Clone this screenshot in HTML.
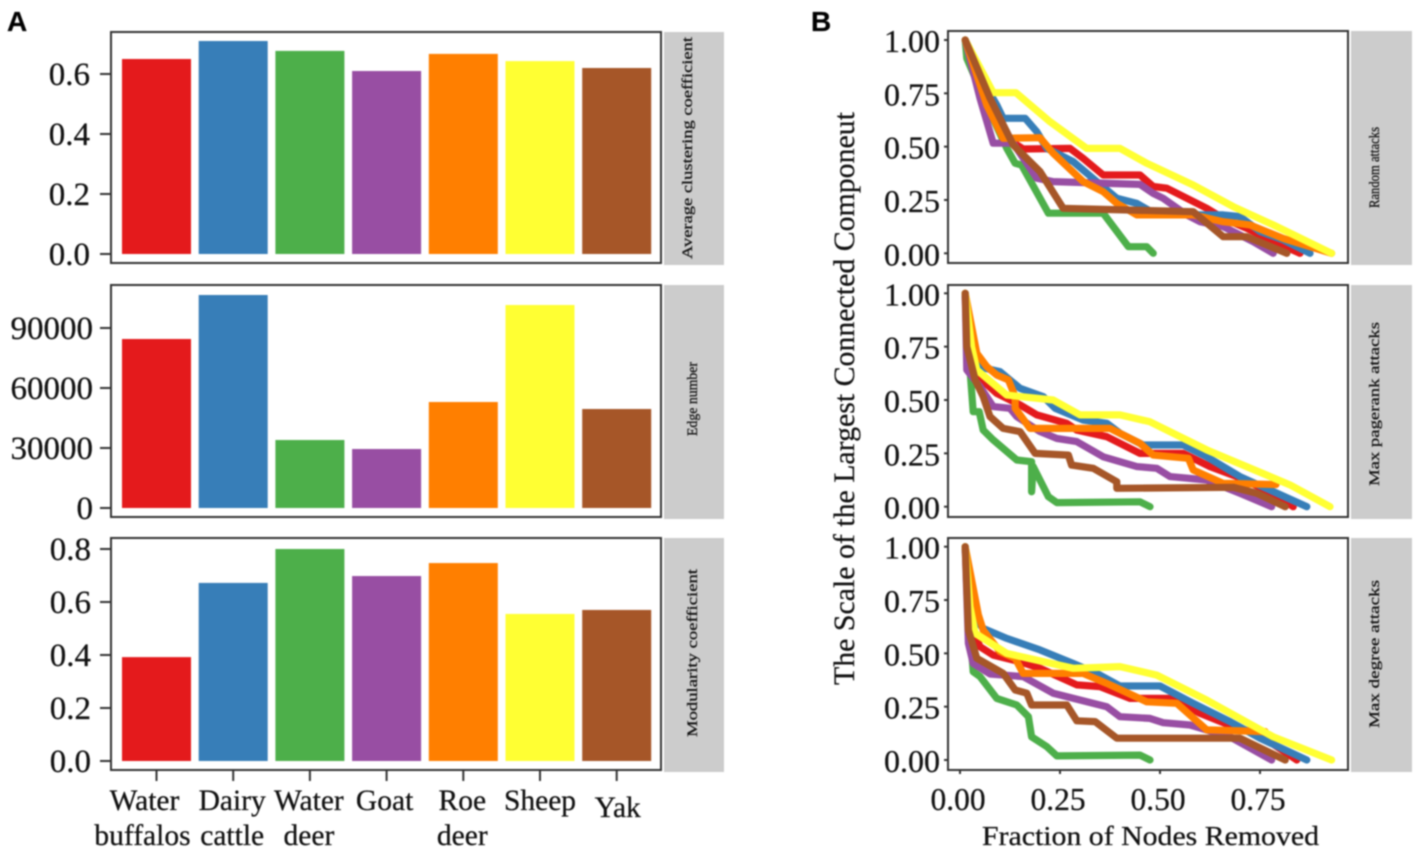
<!DOCTYPE html>
<html>
<head>
<meta charset="utf-8">
<title>Network metrics and robustness</title>
<style>
html,body{margin:0;padding:0;background:#fff;width:1418px;height:854px;overflow:hidden}
svg{display:block;filter:blur(0.7px)}
text{font-family:"Liberation Serif",serif;fill:#111;stroke:#111;stroke-width:0.25px}
</style>
</head>
<body>
<svg id="figure" xmlns="http://www.w3.org/2000/svg" width="1418" height="854" viewBox="0 0 1418 854">
  <text x="7" y="31" style="font-family:'Liberation Sans',sans-serif;font-weight:bold;font-size:28px;fill:#000">A</text>
  <text x="811" y="31" style="font-family:'Liberation Sans',sans-serif;font-weight:bold;font-size:28px;fill:#000">B</text>
  <text transform="translate(854,685) rotate(-90)" font-size="30" textLength="573" lengthAdjust="spacingAndGlyphs">The Scale of the Largest Connected Componeut</text>
  <text x="982" y="845" font-size="27" textLength="337" lengthAdjust="spacingAndGlyphs">Fraction of Nodes Removed</text>
</svg>
<script>
const speciesLine1 = ['Water','Dairy','Water','Goat','Roe','Sheep','Yak'];
const speciesLine2 = ['buffalos','cattle','deer','','deer','',''];
const speciesColors = ['#e41a1c','#377eb8','#4daf4a','#984ea3','#ff7f00','#ffff33','#a65628'];
const clusteringValues = [0.65,0.71,0.677,0.61,0.667,0.643,0.62];
const edgeValues = [84500,106500,34000,29500,53000,101500,49500];
const modularityValues = [0.392,0.672,0.8,0.698,0.747,0.555,0.57];
const clusteringTicks = [0,0.2,0.4,0.6];
const edgeTicks = [0,30000,60000,90000];
const modularityTicks = [0,0.2,0.4,0.6,0.8];
const fractionTicks = [0,0.25,0.5,0.75];
const scaleTicks = [0,0.25,0.5,0.75,1];

const randomRed = [[.013,1],[.075,.742],[.117,.539],[.158,.489],[.275,.492],[.308,.445],[.358,.367],[.45,.367],[.483,.313],[.517,.305],[.617,.211],[.658,.164],[.717,.117],[.767,.07],[.85,0]];
const randomBlue = [[.013,1],[.058,.805],[.092,.695],[.108,.633],[.163,.633],[.192,.57],[.217,.492],[.283,.43],[.342,.336],[.392,.258],[.442,.234],[.492,.18],[.658,.18],[.7,.172],[.75,.102],[.808,.063],[.875,0]];
const randomGreen = [[.013,1],[.017,.914],[.067,.695],[.117,.492],[.138,.422],[.154,.414],[.221,.188],[.358,.188],[.421,.031],[.467,.031],[.483,0]];
const randomPurple = [[.013,1],[.05,.727],[.083,.516],[.133,.516],[.192,.352],[.233,.336],[.45,.323],[.483,.281],[.508,.258],[.567,.18],[.6,.148],[.658,.125],[.7,.086],[.733,.055],[.783,0]];
const randomOrange = [[.013,1],[.067,.695],[.108,.539],[.2,.542],[.233,.469],[.308,.336],[.358,.289],[.392,.234],[.442,.18],[.583,.18],[.658,.148],[.725,.133],[.808,.07],[.929,0]];
const randomYellow = [[.013,1],[.083,.753],[.14,.753],[.225,.617],[.317,.492],[.4,.492],[.467,.422],[.583,.32],[.683,.219],[.783,.133],[.929,0]];
const randomBrown = [[.013,1],[.075,.727],[.133,.508],[.2,.383],[.258,.211],[.583,.195],[.658,.078],[.717,.078],[.817,0]];

const pagerankRed = [[.013,1],[.021,.688],[.05,.602],[.092,.531],[.15,.477],[.192,.43],[.267,.391],[.292,.359],[.367,.328],[.45,.25],[.558,.25],[.625,.188],[.692,.141],[.783,.063],[.833,0]];
const pagerankBlue = [[.013,1],[.025,.703],[.046,.656],[.1,.633],[.15,.555],[.208,.516],[.238,.461],[.308,.406],[.367,.391],[.4,.344],[.458,.289],[.558,.289],[.617,.234],[.7,.141],[.867,0]];
const pagerankGreen = [[.013,1],[.025,.641],[.033,.445],[.048,.445],[.058,.359],[.083,.313],[.142,.219],[.179,.211],[.179,.07],[.183,.188],[.221,.047],[.242,.019],[.45,.023],[.475,0]];
const pagerankPurple = [[.013,1],[.017,.641],[.05,.563],[.083,.469],[.125,.461],[.142,.422],[.2,.352],[.242,.32],[.292,.305],[.358,.234],[.442,.188],[.492,.18],[.525,.141],[.617,.125],[.7,.063],[.779,0]];
const pagerankOrange = [[.013,1],[.042,.719],[.067,.656],[.092,.617],[.121,.594],[.138,.516],[.138,.461],[.175,.367],[.375,.367],[.45,.297],[.483,.242],[.571,.227],[.583,.172],[.658,.109],[.79,.104]];
const pagerankYellow = [[.013,1],[.029,.75],[.042,.641],[.117,.523],[.233,.5],[.3,.43],[.4,.43],[.475,.398],[.617,.266],[.825,.102],[.925,0]];
const pagerankBrown = [[.013,1],[.017,.75],[.038,.594],[.058,.516],[.075,.422],[.108,.367],[.15,.352],[.188,.25],[.271,.242],[.279,.195],[.333,.18],[.392,.117],[.392,.086],[.683,.091],[.742,.063],[.813,0]];

const degreeRed = [[.013,1],[.025,.641],[.05,.531],[.083,.492],[.15,.461],[.2,.43],[.292,.352],[.35,.344],[.425,.289],[.533,.289],[.6,.219],[.683,.156],[.742,.125],[.842,0]];
const degreeBlue = [[.013,1],[.025,.688],[.058,.617],[.117,.57],[.2,.516],[.283,.453],[.35,.398],[.4,.347],[.5,.347],[.583,.266],[.675,.18],[.75,.102],[.867,0]];
const degreeGreen = [[.013,1],[.025,.609],[.033,.414],[.05,.391],[.092,.289],[.142,.258],[.171,.203],[.179,.109],[.217,.063],[.242,.019],[.45,.023],[.475,0]];
const degreePurple = [[.013,1],[.021,.547],[.033,.453],[.075,.403],[.158,.391],[.233,.313],[.367,.25],[.4,.203],[.475,.195],[.508,.175],[.575,.164],[.675,.109],[.779,0]];
const degreeOrange = [[.013,1],[.046,.68],[.058,.609],[.1,.508],[.138,.477],[.158,.406],[.308,.406],[.367,.359],[.467,.273],[.542,.266],[.617,.141],[.763,.133]];
const degreeYellow = [[.013,1],[.025,.719],[.038,.594],[.117,.5],[.283,.43],[.4,.438],[.492,.398],[.617,.281],[.783,.109],[.929,0]];
const degreeBrown = [[.013,1],[.021,.609],[.042,.477],[.108,.406],[.138,.328],[.167,.313],[.179,.258],[.267,.258],[.292,.184],[.338,.18],[.392,.102],[.7,.102],[.813,0]];

const NS = 'http://www.w3.org/2000/svg';
const svg = document.getElementById('figure');

function make(tag, parent, attrs) {
  const el = document.createElementNS(NS, tag);
  for (const k in attrs) el.setAttribute(k, attrs[k]);
  
  parent.appendChild(el);
  return el;
}
function label(parent, str, attrs) {
  const el = make('text', parent, attrs);
  el.textContent = str;
  return el;
}
function linearScale(v0, p0, v1, p1) {
  return function (v) { return p0 + (v - v0) * (p1 - p0) / (v1 - v0); };
}
function drawFrame(g, top, stripLeft, stripRight, stripBottom, stripText, stripX, stripLen, stripStart) {
  const strip = make('rect', g, {x: stripLeft, y: top, width: stripRight - stripLeft, height: stripBottom - top, fill: '#cccccc'});
  
  const st = label(g, stripText, {transform: 'translate(' + stripX + ',' + stripStart + ') rotate(-90)', 'font-size': 15, textLength: stripLen, lengthAdjust: 'spacingAndGlyphs'});
  
}
function drawBorder(g, left, top, right, bottom) {
  const border = make('rect', g, {x: left, y: top, width: right - left, height: bottom - top, fill: 'none', stroke: '#333333', 'stroke-width': 2});
  
}

/* ---- Panel A bar charts ---- */
const barLeft = 122, barStep = 76.7, barWidth = 69;
function barCenter(i) { return barLeft + barWidth / 2 + i * barStep; }

function drawBars(name, values, ticks, fmt, top, bottom, zeroPx, refValue, refPx, stripText, stripX, stripLen, stripStart, labelEnd) {
  const g = make('g', svg, {});
  
  const y = linearScale(0, zeroPx, refValue, refPx);
  drawFrame(g, top, 664, 724, bottom + 2, stripText, stripX, stripLen, stripStart);
  values.forEach(function (v, i) {
    const bar = make('rect', g, {x: barLeft + i * barStep, y: y(v), width: barWidth, height: zeroPx - y(v), fill: speciesColors[i]});
    
  });
  drawBorder(g, 111, top, 661, bottom);
  ticks.forEach(function (t) {
    const mark = make('line', g, {x1: 100, x2: 111, y1: y(t), y2: y(t), stroke: '#333333', 'stroke-width': 2});
    
    const text = label(g, fmt(t), {x: labelEnd, y: y(t) + 11, 'font-size': 33, 'text-anchor': 'end'});
    
  });
}
const fixed1 = function (v) { return v.toFixed(1); };
const plain = function (v) { return String(v); };
drawBars('clustering', clusteringValues, clusteringTicks, fixed1, 32, 263, 254, 0.6, 74, 'Average clustering coefficient', 692, 222, 259, 90);
drawBars('edges', edgeValues, edgeTicks, plain, 285, 517, 508, 90000, 328, 'Edge number', 697, 74, 436, 93);
drawBars('modularity', modularityValues, modularityTicks, fixed1, 538, 770, 761, 0.8, 549, 'Modularity coefficient', 697, 168, 737, 91);

const catGroup = make('g', svg, {});

const line1Offsets = [-12, -1, -1, -2, -1, 0, 1];
speciesLine1.forEach(function (s, i) {
  const mark = make('line', catGroup, {x1: barCenter(i), x2: barCenter(i), y1: 770, y2: 781, stroke: '#333333', 'stroke-width': 2});
  
  const t1 = label(catGroup, s, {x: barCenter(i) + line1Offsets[i], y: i === 6 ? 817 : 810, 'font-size': 29.5, 'text-anchor': 'middle'});
  
  if (speciesLine2[i]) {
    const t2 = label(catGroup, speciesLine2[i], {x: barCenter(i) + line1Offsets[i] - (i === 0 ? 2 : 0), y: 845, 'font-size': 29.5, 'text-anchor': 'middle'});
    
  }
});

/* ---- Panel B line charts ---- */
const xFrac = linearScale(0, 960, 0.25, 1060);
function drawLines(name, series, top, bottom, onePx, zeroPx, stripText, stripLen, stripStart) {
  const g = make('g', svg, {});
  
  const y = linearScale(0, zeroPx, 1, onePx);
  drawFrame(g, top, 1351, 1412, bottom + 2, stripText, 1379, stripLen, stripStart);
  series.forEach(function (pts, i) {
    const d = pts.map(function (p, j) { return (j ? 'L' : 'M') + xFrac(p[0]).toFixed(1) + ' ' + y(p[1]).toFixed(1); }).join(' ');
    const path = make('path', g, {d: d, fill: 'none', stroke: speciesColors[i], 'stroke-width': 7.2, 'stroke-linejoin': 'round', 'stroke-linecap': 'round'});
    
  });
  drawBorder(g, 948, top, 1348, bottom);
  scaleTicks.forEach(function (t) {
    const mark = make('line', g, {x1: 944, x2: 948, y1: y(t), y2: y(t), stroke: '#333333', 'stroke-width': 2});
    
    const text = label(g, t.toFixed(2), {x: 940, y: y(t) + 12, 'font-size': 32, 'text-anchor': 'end'});
    
  });
}
drawLines('random-attacks', [randomRed, randomBlue, randomGreen, randomPurple, randomOrange, randomYellow, randomBrown], 31, 263, 40, 253.3, 'Random attacks', 81, 208);
drawLines('pagerank-attacks', [pagerankRed, pagerankBlue, pagerankGreen, pagerankPurple, pagerankOrange, pagerankYellow, pagerankBrown], 285, 517, 293.3, 506.7, 'Max pagerank attacks', 164, 486);
drawLines('degree-attacks', [degreeRed, degreeBlue, degreeGreen, degreePurple, degreeOrange, degreeYellow, degreeBrown], 538, 770, 546.7, 760, 'Max degree attacks', 148, 728);

const fracGroup = make('g', svg, {});

fractionTicks.forEach(function (t) {
  const mark = make('line', fracGroup, {x1: xFrac(t), x2: xFrac(t), y1: 770, y2: 774, stroke: '#333333', 'stroke-width': 2});
  
  const text = label(fracGroup, t.toFixed(2), {x: xFrac(t) - 2, y: 810, 'font-size': 31.5, 'text-anchor': 'middle'});
  
});
</script>
</body>
</html>
